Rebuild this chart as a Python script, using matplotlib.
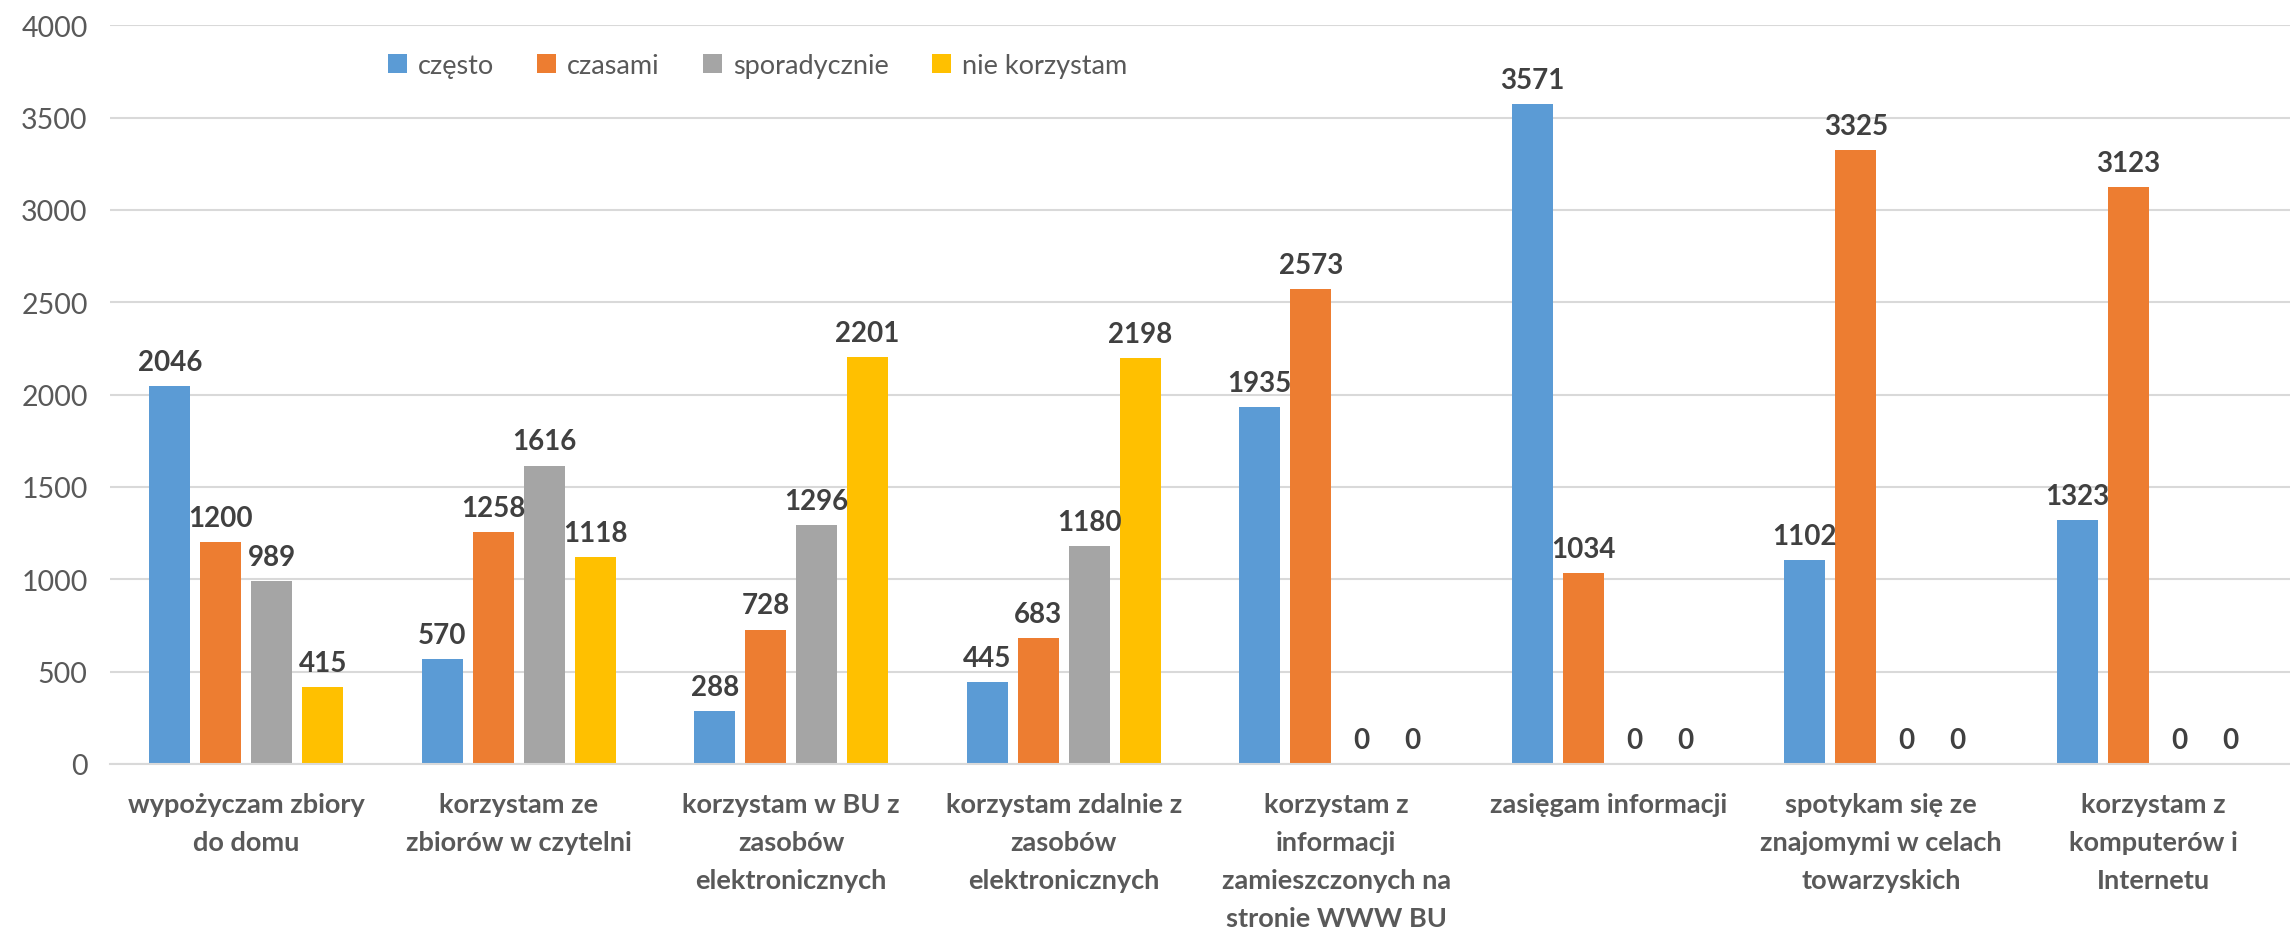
import numpy as np
import matplotlib.pyplot as plt

kategorie = [
    "wypożyczam zbiory\ndo domu",
    "korzystam ze\nzbiorów w czytelni",
    "korzystam w BU z\nzasobów\nelektronicznych",
    "korzystam zdalnie z\nzasobów\nelektronicznych",
    "korzystam z\ninformacji\nzamieszczonych na\nstronie WWW BU",
    "zasięgam informacji",
    "spotykam się ze\nznajomymi w celach\ntowarzyskich",
    "korzystam z\nkomputerów i\nInternetu",
]
serie = ["często", "czasami", "sporadycznie", "nie korzystam"]
czesto = [2046, 570, 288, 445, 1935, 3571, 1102, 1323]
czasami = [1200, 1258, 728, 683, 2573, 1034, 3325, 3123]
sporadycznie = [989, 1616, 1296, 1180, 0, 0, 0, 0]
nie_korzystam = [415, 1118, 2201, 2198, 0, 0, 0, 0]
kolory = ["#5B9BD5", "#ED7D31", "#A5A5A5", "#FFC000"]

plt.rcParams['font.family'] = ['Lato', 'DejaVu Sans']

fig = plt.figure(figsize=(22.9, 9.37), dpi=100)
ax = fig.add_axes([0.048, 0.1836, 0.952, 0.7884])

x = np.arange(len(kategorie))
szer = 0.15
krok = 0.187
dane = [czesto, czasami, sporadycznie, nie_korzystam]
for i, (nazwa, wart, kol) in enumerate(zip(serie, dane, kolory)):
    pos = x + (i - 1.5) * krok
    ax.bar(pos, wart, width=szer, color=kol, label=nazwa)
    for xb, v in zip(pos, wart):
        ax.text(xb, v + 60, str(v), ha='center', va='bottom',
                fontsize=20, fontweight='bold', color='#404040')

ax.set_xlim(-0.5, len(kategorie) - 0.5)
ax.set_ylim(0, 4000)
ax.set_yticks(np.arange(0, 4001, 500))
ax.yaxis.grid(True, color='#D9D9D9', linewidth=1.5)
ax.set_axisbelow(True)
for s in ['top', 'right', 'left']:
    ax.spines[s].set_visible(False)
ax.spines['bottom'].set_color('#D9D9D9')
ax.spines['bottom'].set_linewidth(1.5)
ax.tick_params(axis='both', length=0)
ax.tick_params(axis='y', labelsize=20.5, labelcolor='#595959', pad=16)
ax.set_xticks(x)
ax.set_xticklabels(kategorie, fontsize=19.5, fontweight='bold', color='#595959',
                   linespacing=1.7)
ax.tick_params(axis='x', pad=20)

ax.legend(loc='center', bbox_to_anchor=(0.297, 0.946), ncol=4, frameon=False,
          fontsize=19.5, labelcolor='#595959', handlelength=0.7, handleheight=0.7,
          columnspacing=1.6, handletextpad=0.4)

fig.savefig('out.png', dpi=100)
